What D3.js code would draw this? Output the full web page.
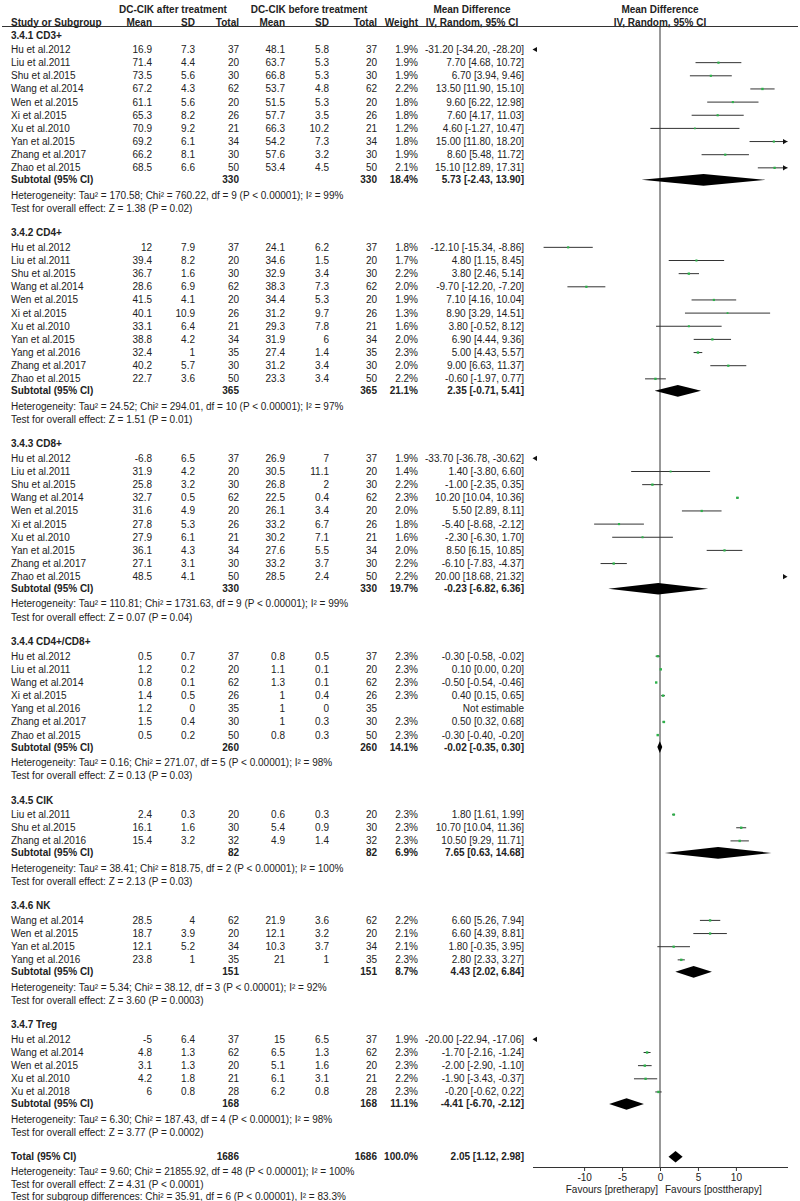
<!DOCTYPE html>
<html lang="en">
<head>
    <meta charset="UTF-8">
    <!--import D3-->
    <script src="https://cdn.jsdelivr.net/npm/d3@7"></script>
    <style>
        body { margin: 0; background: #fff; }
        svg text { font-family: "Liberation Sans", Arial, sans-serif; font-size: 10px; fill: #222; }
        svg text.b { font-weight: bold; }
    </style>
</head>
<body>
    <div id="plot"></div>
</body>

<script>
    // DATA:

    const GROUPS = ["3.4.1 CD3+", "3.4.2 CD4+", "3.4.3 CD8+", "3.4.4 CD4+/CD8+", "3.4.5 CIK", "3.4.6 NK", "3.4.7 Treg"];

    // one entry per study row, STUDY_GROUP points into GROUPS
    const STUDIES = [
        "Hu et al.2012", "Liu et al.2011", "Shu et al.2015", "Wang et al.2014", "Wen et al.2015", "Xi et al.2015", "Xu et al.2010", "Yan et al.2015", "Zhang et al.2017", "Zhao et al.2015",
        "Hu et al.2012", "Liu et al.2011", "Shu et al.2015", "Wang et al.2014", "Wen et al.2015", "Xi et al.2015", "Xu et al.2010", "Yan et al.2015", "Yang et al.2016", "Zhang et al.2017", "Zhao et al.2015",
        "Hu et al.2012", "Liu et al.2011", "Shu et al.2015", "Wang et al.2014", "Wen et al.2015", "Xi et al.2015", "Xu et al.2010", "Yan et al.2015", "Zhang et al.2017", "Zhao et al.2015",
        "Hu et al.2012", "Liu et al.2011", "Wang et al.2014", "Xi et al.2015", "Yang et al.2016", "Zhang et al.2017", "Zhao et al.2015",
        "Liu et al.2011", "Shu et al.2015", "Zhang et al.2016",
        "Wang et al.2014", "Wen et al.2015", "Yan et al.2015", "Yang et al.2016",
        "Hu et al.2012", "Wang et al.2014", "Wen et al.2015", "Xu et al.2010", "Xu et al.2018"
    ];
    const STUDY_GROUP = [
        0, 0, 0, 0, 0, 0, 0, 0, 0, 0,
        1, 1, 1, 1, 1, 1, 1, 1, 1, 1, 1,
        2, 2, 2, 2, 2, 2, 2, 2, 2, 2,
        3, 3, 3, 3, 3, 3, 3,
        4, 4, 4,
        5, 5, 5, 5,
        6, 6, 6, 6, 6
    ];
    const MEAN_AFTER = [
        16.9, 71.4, 73.5, 67.2, 61.1, 65.3, 70.9, 69.2, 66.2, 68.5,
        12, 39.4, 36.7, 28.6, 41.5, 40.1, 33.1, 38.8, 32.4, 40.2, 22.7,
        -6.8, 31.9, 25.8, 32.7, 31.6, 27.8, 27.9, 36.1, 27.1, 48.5,
        0.5, 1.2, 0.8, 1.4, 1.2, 1.5, 0.5,
        2.4, 16.1, 15.4,
        28.5, 18.7, 12.1, 23.8,
        -5, 4.8, 3.1, 4.2, 6
    ];
    const SD_AFTER = [
        7.3, 4.4, 5.6, 4.3, 5.6, 8.2, 9.2, 6.1, 8.1, 6.6,
        7.9, 8.2, 1.6, 6.9, 4.1, 10.9, 6.4, 4.2, 1, 5.7, 3.6,
        6.5, 4.2, 3.2, 0.5, 4.9, 5.3, 6.1, 4.3, 3.1, 4.1,
        0.7, 0.2, 0.1, 0.5, 0, 0.4, 0.2,
        0.3, 1.6, 3.2,
        4, 3.9, 5.2, 1,
        6.4, 1.3, 1.3, 1.8, 0.8
    ];
    const N_AFTER = [
        37, 20, 30, 62, 20, 26, 21, 34, 30, 50,
        37, 20, 30, 62, 20, 26, 21, 34, 35, 30, 50,
        37, 20, 30, 62, 20, 26, 21, 34, 30, 50,
        37, 20, 62, 26, 35, 30, 50,
        20, 30, 32,
        62, 20, 34, 35,
        37, 62, 20, 21, 28
    ];
    const MEAN_BEFORE = [
        48.1, 63.7, 66.8, 53.7, 51.5, 57.7, 66.3, 54.2, 57.6, 53.4,
        24.1, 34.6, 32.9, 38.3, 34.4, 31.2, 29.3, 31.9, 27.4, 31.2, 23.3,
        26.9, 30.5, 26.8, 22.5, 26.1, 33.2, 30.2, 27.6, 33.2, 28.5,
        0.8, 1.1, 1.3, 1, 1, 1, 0.8,
        0.6, 5.4, 4.9,
        21.9, 12.1, 10.3, 21,
        15, 6.5, 5.1, 6.1, 6.2
    ];
    const SD_BEFORE = [
        5.8, 5.3, 5.3, 4.8, 5.3, 3.5, 10.2, 7.3, 3.2, 4.5,
        6.2, 1.5, 3.4, 7.3, 5.3, 9.7, 7.8, 6, 1.4, 3.4, 3.4,
        7, 11.1, 2, 0.4, 3.4, 6.7, 7.1, 5.5, 3.7, 2.4,
        0.5, 0.1, 0.1, 0.4, 0, 0.3, 0.3,
        0.3, 0.9, 1.4,
        3.6, 3.2, 3.7, 1,
        6.5, 1.3, 1.6, 3.1, 0.8
    ];
    const N_BEFORE = N_AFTER.slice();
    const WEIGHT = [
        1.9, 1.9, 1.9, 2.2, 1.8, 1.8, 1.2, 1.8, 1.9, 2.1,
        1.8, 1.7, 2.2, 2.0, 1.9, 1.3, 1.6, 2.0, 2.3, 2.0, 2.2,
        1.9, 1.4, 2.2, 2.3, 2.0, 1.8, 1.6, 2.0, 2.2, 2.2,
        2.3, 2.3, 2.3, 2.3, null, 2.3, 2.3,
        2.3, 2.3, 2.3,
        2.2, 2.1, 2.1, 2.3,
        1.9, 2.3, 2.3, 2.2, 2.3
    ];
    const MD = [
        -31.20, 7.70, 6.70, 13.50, 9.60, 7.60, 4.60, 15.00, 8.60, 15.10,
        -12.10, 4.80, 3.80, -9.70, 7.10, 8.90, 3.80, 6.90, 5.00, 9.00, -0.60,
        -33.70, 1.40, -1.00, 10.20, 5.50, -5.40, -2.30, 8.50, -6.10, 20.00,
        -0.30, 0.10, -0.50, 0.40, null, 0.50, -0.30,
        1.80, 10.70, 10.50,
        6.60, 6.60, 1.80, 2.80,
        -20.00, -1.70, -2.00, -1.90, -0.20
    ];
    const MD_LO = [
        -34.20, 4.68, 3.94, 11.90, 6.22, 4.17, -1.27, 11.80, 5.48, 12.89,
        -15.34, 1.15, 2.46, -12.20, 4.16, 3.29, -0.52, 4.44, 4.43, 6.63, -1.97,
        -36.78, -3.80, -2.35, 10.04, 2.89, -8.68, -6.30, 6.15, -7.83, 18.68,
        -0.58, 0.00, -0.54, 0.15, null, 0.32, -0.40,
        1.61, 10.04, 9.29,
        5.26, 4.39, -0.35, 2.33,
        -22.94, -2.16, -2.90, -3.43, -0.62
    ];
    const MD_HI = [
        -28.20, 10.72, 9.46, 15.10, 12.98, 11.03, 10.47, 18.20, 11.72, 17.31,
        -8.86, 8.45, 5.14, -7.20, 10.04, 14.51, 8.12, 9.36, 5.57, 11.37, 0.77,
        -30.62, 6.60, 0.35, 10.36, 8.11, -2.12, 1.70, 10.85, -4.37, 21.32,
        -0.02, 0.20, -0.46, 0.65, null, 0.68, -0.20,
        1.99, 11.36, 11.71,
        7.94, 8.81, 3.95, 3.27,
        -17.06, -1.24, -1.10, -0.37, 0.22
    ];

    // subgroup summaries, one per entry of GROUPS
    const SUB_N = [330, 365, 330, 260, 82, 151, 168];
    const SUB_WEIGHT = [18.4, 21.1, 19.7, 14.1, 6.9, 8.7, 11.1];
    const SUB_MD = [5.73, 2.35, -0.23, -0.02, 7.65, 4.43, -4.41];
    const SUB_LO = [-2.43, -0.71, -6.82, -0.35, 0.63, 2.02, -6.70];
    const SUB_HI = [13.90, 5.41, 6.36, 0.30, 14.68, 6.84, -2.12];
    const SUB_TAU2 = [170.58, 24.52, 110.81, 0.16, 38.41, 5.34, 6.30];
    const SUB_CHI2 = [760.22, 294.01, 1731.63, 271.07, 818.75, 38.12, 187.43];
    const SUB_DF = [9, 10, 9, 5, 2, 3, 4];
    const SUB_I2 = [99, 97, 99, 98, 100, 92, 98];
    const SUB_Z = [1.38, 1.51, 0.07, 0.13, 2.13, 3.60, 3.77];
    const SUB_P = ["P = 0.02", "P = 0.01", "P = 0.04", "P = 0.03", "P = 0.03", "P = 0.0003", "P = 0.0002"];

    // overall
    const TOTAL_N = 1686;
    const TOTAL_WEIGHT = 100.0;
    const TOTAL_MD = [2.05, 1.12, 2.98];
    const TOTAL_HET = "Heterogeneity: Tau\u00b2 = 9.60; Chi\u00b2 = 21855.92, df = 48 (P < 0.00001); I\u00b2 = 100%";
    const TOTAL_TEST = "Test for overall effect: Z = 4.31 (P < 0.0001)";
    const SUBGROUP_TEST = "Test for subgroup differences: Chi\u00b2 = 35.91, df = 6 (P < 0.00001), I\u00b2 = 83.3%";

    const X_TICKS = [-10, -5, 0, 5, 10];

    // LAYOUT:

    const WIDTH = 800;
    const HEIGHT = 1201;
    const AXIS_Y = 1167;
    const RULE_Y = 26.5;
    const DOT_GREEN = "#2db24a";
    const INK = "#222";

    // right edges of the table columns
    const COL = { name: 11, mA: 152, sA: 195, nA: 239, mB: 285, sB: 329, nB: 377, w: 418, md: 524 };

    // vertical gap before a row, by kind of row
    const GAP = { header: 24.6, first: 14.5, study: 13.15, subtotal: 12.0, het: 15.2, test: 13.2,
                  total: 24.4, totalHet: 15, totalTest: 12.3, subTest: 12 };

    const fmt2 = v => v.toFixed(2);
    const ciText = (m, lo, hi) => fmt2(m) + " [" + fmt2(lo) + ", " + fmt2(hi) + "]";

    // build the list of rows with their y positions
    let rows = [];
    let y = 35;
    GROUPS.forEach((g, gi) => {
        if (gi > 0) y += GAP.header;
        rows.push({ kind: "header", g: gi, y: y });
        let first = true;
        STUDIES.forEach((s, i) => {
            if (STUDY_GROUP[i] != gi) return;
            y += first ? GAP.first : GAP.study;
            first = false;
            rows.push({ kind: "study", i: i, y: y });
        });
        y += GAP.subtotal; rows.push({ kind: "subtotal", g: gi, y: y });
        y += GAP.het; rows.push({ kind: "het", g: gi, y: y });
        y += GAP.test; rows.push({ kind: "test", g: gi, y: y });
    });
    y += GAP.total; rows.push({ kind: "total", y: y });
    y += GAP.totalHet; rows.push({ kind: "note", text: TOTAL_HET, y: y });
    y += GAP.totalTest; rows.push({ kind: "note", text: TOTAL_TEST, y: y });
    y += GAP.subTest; rows.push({ kind: "note", text: SUBGROUP_TEST, y: y });

    // SVG:

    const svg = d3.select("#plot").append("svg")
        .attr("width", WIDTH)
        .attr("height", HEIGHT);
    svg.append("rect").attr("width", WIDTH).attr("height", HEIGHT).attr("fill", "#fff");

    const x = d3.scaleLinear().domain([-16.8, 16.8]).range([532.5, 787.5]);
    const [X0, X1] = x.range();
    const dotSize = d3.scaleSqrt().domain([0, 2.3]).range([0, 2.4]);

    // helper to drop a text at a row
    function txt(sel, str, xPos, anchor, bold) {
        return sel.append("text")
            .attr("x", xPos)
            .attr("dy", "0.35em")
            .attr("text-anchor", anchor)
            .attr("class", bold ? "b" : null)
            .text(str);
    }

    // column headers
    const head = svg.append("g");
    txt(head.append("g").attr("transform", "translate(0,9)"), "DC-CIK after treatment", 173, "middle", true);
    txt(head.select("g"), "DC-CIK before treatment", 309, "middle", true);
    txt(head.select("g"), "Mean Difference", 472, "middle", true);
    txt(head.select("g"), "Mean Difference", x(0), "middle", true);
    const h2 = head.append("g").attr("transform", "translate(0,22.5)");
    txt(h2, "Study or Subgroup", COL.name, "start", true);
    [["Mean", COL.mA], ["SD", COL.sA], ["Total", COL.nA], ["Mean", COL.mB], ["SD", COL.sB], ["Total", COL.nB], ["Weight", COL.w]]
        .forEach(c => txt(h2, c[0], c[1], "end", true));
    txt(h2, "IV, Random, 95% CI", 472, "middle", true);
    txt(h2, "IV, Random, 95% CI", x(0), "middle", true);
    svg.append("line")
        .attr("x1", 2).attr("x2", 798).attr("y1", RULE_Y).attr("y2", RULE_Y)
        .attr("stroke", "#333").attr("stroke-width", 1);

    // line of no effect
    svg.append("line")
        .attr("x1", x(0)).attr("x2", x(0)).attr("y1", RULE_Y).attr("y2", AXIS_Y)
        .attr("stroke", "#333").attr("stroke-width", 1);

    // ROWS:

    const rowG = svg.selectAll("g.row")
        .data(rows)
        .join("g")
        .attr("class", "row")
        .attr("transform", d => "translate(0," + d.y + ")");

    rowG.each(function (d) {
        const g = d3.select(this);
        if (d.kind == "header") {
            txt(g, GROUPS[d.g], COL.name, "start", true);
        }
        else if (d.kind == "study") {
            const i = d.i;
            txt(g, STUDIES[i], COL.name, "start");
            txt(g, String(MEAN_AFTER[i]), COL.mA, "end");
            txt(g, String(SD_AFTER[i]), COL.sA, "end");
            txt(g, String(N_AFTER[i]), COL.nA, "end");
            txt(g, String(MEAN_BEFORE[i]), COL.mB, "end");
            txt(g, String(SD_BEFORE[i]), COL.sB, "end");
            txt(g, String(N_BEFORE[i]), COL.nB, "end");
            if (MD[i] == null) {
                txt(g, "Not estimable", COL.md, "end");
                return;
            }
            txt(g, WEIGHT[i].toFixed(1) + "%", COL.w, "end");
            txt(g, ciText(MD[i], MD_LO[i], MD_HI[i]), COL.md, "end");
            drawCI(g, MD[i], MD_LO[i], MD_HI[i], WEIGHT[i]);
        }
        else if (d.kind == "subtotal") {
            txt(g, "Subtotal (95% CI)", COL.name, "start", true);
            txt(g, String(SUB_N[d.g]), COL.nA, "end", true);
            txt(g, String(SUB_N[d.g]), COL.nB, "end", true);
            txt(g, SUB_WEIGHT[d.g].toFixed(1) + "%", COL.w, "end", true);
            txt(g, ciText(SUB_MD[d.g], SUB_LO[d.g], SUB_HI[d.g]), COL.md, "end", true);
            drawDiamond(g, SUB_MD[d.g], SUB_LO[d.g], SUB_HI[d.g]);
        }
        else if (d.kind == "het") {
            txt(g, "Heterogeneity: Tau\u00b2 = " + fmt2(SUB_TAU2[d.g]) + "; Chi\u00b2 = " + fmt2(SUB_CHI2[d.g]) +
                ", df = " + SUB_DF[d.g] + " (P < 0.00001); I\u00b2 = " + SUB_I2[d.g] + "%", COL.name, "start");
        }
        else if (d.kind == "test") {
            txt(g, "Test for overall effect: Z = " + fmt2(SUB_Z[d.g]) + " (" + SUB_P[d.g] + ")", COL.name, "start");
        }
        else if (d.kind == "total") {
            txt(g, "Total (95% CI)", COL.name, "start", true);
            txt(g, String(TOTAL_N), COL.nA, "end", true);
            txt(g, String(TOTAL_N), COL.nB, "end", true);
            txt(g, TOTAL_WEIGHT.toFixed(1) + "%", COL.w, "end", true);
            txt(g, ciText(TOTAL_MD[0], TOTAL_MD[1], TOTAL_MD[2]), COL.md, "end", true);
            drawDiamond(g, TOTAL_MD[0], TOTAL_MD[1], TOTAL_MD[2]);
        }
        else if (d.kind == "note") {
            txt(g, d.text, COL.name, "start");
        }
    });

    // study CI: line + green square, arrows where the interval runs off the axis
    function drawCI(g, m, lo, hi, w) {
        const [dMin, dMax] = x.domain();
        if (hi < dMin) { arrow(g, X0, -1); return; }
        if (lo > dMax) { arrow(g, X1, 1); return; }
        const a = x(Math.max(lo, dMin));
        const b = x(Math.min(hi, dMax));
        g.append("line")
            .attr("x1", a).attr("x2", b)
            .attr("stroke", "#333").attr("stroke-width", 1);
        if (hi > dMax) arrow(g, X1, 1);
        if (lo < dMin) arrow(g, X0, -1);
        const s = dotSize(w);
        g.append("rect")
            .attr("x", x(m) - s / 2).attr("y", -s / 2)
            .attr("width", s).attr("height", s)
            .attr("fill", DOT_GREEN);
    }

    function arrow(g, tip, dir) {
        g.append("path")
            .attr("d", "M" + tip + ",0 L" + (tip - dir * 4.5) + ",-2.6 L" + (tip - dir * 4.5) + ",2.6 Z")
            .attr("fill", "#111");
    }

    // pooled estimate diamond
    function drawDiamond(g, m, lo, hi) {
        const h = 5.8;
        g.append("path")
            .attr("d", "M" + x(lo) + ",0 L" + x(m) + "," + (-h) + " L" + x(hi) + ",0 L" + x(m) + "," + h + " Z")
            .attr("fill", "#000");
    }

    // AXIS:

    const axis = svg.append("g")
        .attr("transform", "translate(0," + AXIS_Y + ")")
        .call(d3.axisBottom(x).tickValues(X_TICKS).tickSize(4).tickSizeOuter(0).tickFormat(d => String(d)));
    axis.attr("font-family", null).attr("font-size", null);
    axis.select(".domain").attr("stroke", "#333");
    axis.selectAll(".tick line").attr("stroke", "#333");
    axis.selectAll(".tick text").attr("fill", INK).attr("y", 6.5);

    const fav = svg.append("g").attr("transform", "translate(0,1189)");
    txt(fav, "Favours [pretherapy]", x(0) - 2, "end");
    txt(fav, "Favours [posttherapy]", x(0) + 5, "start");
</script>

</html>
